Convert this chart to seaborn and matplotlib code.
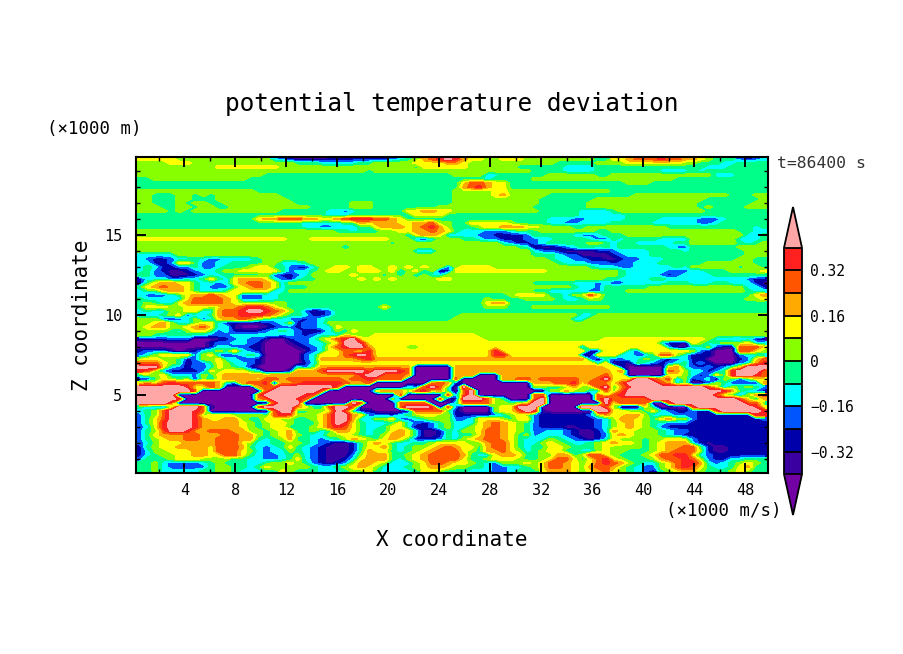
import numpy as np
import pandas as pd
import matplotlib
matplotlib.use("Agg")
import matplotlib.pyplot as plt
from matplotlib.cm import ScalarMappable
from matplotlib.colors import BoundaryNorm, ListedColormap
import seaborn as sns

# ==========================================================
# DATA
# ==========================================================

TITLE = "potential temperature deviation"
X_TICKS = [4, 8, 12, 16, 20, 24, 28, 32, 36, 40, 44, 48]
Z_TICKS = [5, 10, 15]
BAR_TICKS = [-0.32, -0.16, 0, 0.16, 0.32]
BAR_LABELS = ["\u22120.32", "\u22120.16", "0", "0.16", "0.32"]
LEVELS = [-0.40, -0.32, -0.24, -0.16, -0.08, 0, 0.08, 0.16, 0.24, 0.32, 0.40]
COLORS = ["#3a00a0", "#0000aa", "#0055ff", "#00ffff", "#00ff88",
          "#88ff00", "#ffff00", "#ffaa00", "#ff5500", "#ff2020"]
UNDER_COLOR = "#7300a5"
OVER_COLOR = "#ffa6a6"

# one letter per contour band, a = below -0.40 ... l = above 0.40
BAND_VALUES = dict(zip("abcdefghijkl",
                       [-0.44, -0.36, -0.28, -0.20, -0.12, -0.04,
                        0.04, 0.12, 0.20, 0.28, 0.36, 0.44]))

# rows run from the top of the plot (z = 19.75) to the bottom (z = 0.25)
BAND_ROWS = [
    "hhhhhggggg gggggggedc bbbbcccccc ccdefgijkl kihhgghhhg ggggggggff hhijjjkjji ihgfffdcde",
    "gggghhhggg gggggggggg fffeeeeeff ggggghhhhi ihgggggggg gggfffffgg gghhhhhhhg gfffeeffff",
    "gggggggggg hhhhhhhhgg gggggggggg gggggfhhhh hhggggggff ffffeeeeff ffffffffff ffeeefffff",
    "gggggggggg gggggggggg gggggggggf gggggggggg gggggggggg ffffeeeeff ffffffeeee feffffffff",
    "gggggggggg ggggggffff ffffffffff ffffffffff ggggeeffff ffggggggff gggggggggg gggeeeffff",
    "ffgggggggg ggggffffff ffffffffff ffffffffff ffffefffff gggggggggg ggggggggff ffffffffff",
    "ffffffffff ffffffffff ffffffffff ffffffffff fhjjihhfff ffffffffff ffgggfffff ffffffffff",
    "ffffffffff ffffffffff ffffffffff ffffffffff fijkihhfff ffffffffff ffffffffff ffffffffff",
    "gggggggggg gggggfffff ffffffffff ffffffffff ggggghhggg gggggggggg ffffffffff ffffffffff",
    "ggfffggfgf ggggggggff ffffffffff ffffffffff ggggghiggg ggffffffff fffggggggg gggggfffgg",
    "ggfffggfff gggggggggf ffffffffff ffffffffff gggggggggg gfffffffgg gggggggggg ggfffffffg",
    "ggfffgfggf fggggggggg fffffffggg ffffffffff gggggggggg gffffffggg gggggggggg gfffffffgg",
    "gggffggfgg ffgggggggg ggfffffggg ffffffffgg gggggggggg fffffffggg gggggggggg gfgffffggg",
    "ggggfgfggg ggggggggff ffffeedeff ffffhhiihh gggggggggg gfffffeeee fggggggggg ggffffffff",
    "ffffffffff ffffffffff ffffeeefff fffffhhhhf ffffffffff ffffffeeee eeffffffff ffffffffff",
    "ffffffffff fffffhiijj jiihhijkkk jjihffffff ffffffffff ffeeeddeee eeffffeeee edddefffff",
    "ffffffffff ffffffffff feeeeeffih iiihhiijgg ffhhhhhgff ffeeddeeee fffffeeeee eddeffffff",
    "ffffffffff ffffffffff feeddeeeff hiiihijkig fffghhiiih hggggffggg gggggggfff ffffffffef",
    "gggggggggg gggggggggg gggggffeff fgghhiijih feeedddeff fgggggggff gggggggggg ggggggffee",
    "gggggggggg gggggggggg gggggggggg ggggehiihe eeeddccccd fffffeddef ffgggggggg gggggggeef",
    "hhhhhhhhhh hhhhhhhhhg gghhhhhhhh hhgggdcegg gffeddcccd deeffffedd feffffeeee ggggggeeef",
    "gggggggggg gggggggggg gggggggggg ggfggggggg ggggggedcc defffffggf effeeeeeff ggggggfefg",
    "gggggggggg gggggggggg ggggggeggg gggggggggg ggggggggfe bbbcdeffef effffffedd ffffffgggg",
    "gggggggggg gggggggggg gggggggggg gggggedegg gggggggggg eddcbbbbcc deeeeffffe fffffffggg",
    "eeeeeggggg gggggggggg gggggggggg gggggggggg gggggggggg fffeddbbbb cdeeefffff fffffffggg",
    "edccdeefed deeeefgggg gggggggggg gggggggggg gggggggggg ggfeeddccb bcddeeefff ffffffggff",
    "eeccdhhfdd eeffffggee efgggggggg gggggggggg gggggggggg gggfeeeddd cddeeeffff ffggggggff",
    "efeccddfdd efffghhffd ccegghhghh gghghghggd ghhhhggggg gggggggfee eddeeeeefe ggggggfggf",
    "efdcbbcdee fgghhhhhfd eefghhgghh hgheghegbc hhhhhhhhhh hhgggggggg gfeeeeeddd eefffggggh",
    "ffddbbbcde efffffgdcc deggggghgg gfgfgegeeg gggggggggg gggggggggg gfeeeedcde eeefffffff",
    "ceeeddeefh fehiiihedc effggggghg hghggggghh gggggggggg gggggggggf feeeeffeee eeeeeeedcc",
    "cfhiihhfee dehijjiheg gggggggggg gggggggggg gggggggggg fffffeeede cdeeeeefff eeeffeeecb",
    "fhijiihfed ddfhijihef ffgggggggg gggggggggg gggggggggg gggggfeedf fffffggggg gggggggeec",
    "effhiihfee efhhhhheeg gggggggggg gggggggggg gggggggggg ffeeeeeddf ffgggggggg gggggggfee",
    "edddefhiij ihhdddeeff ffffffffff ffffffffff fffffffghh hhffeggjhf ffffffffff ffffffffhi",
    "feeeeehjjj jihdddeeff ffffffffff ffffffffff ffffgffffg gggfedfggf ffffffffff fffffffggh",
    "fgfeehijjj jihggggggf ffffffffff ffffffffff ffffhiifff ffffffffff ffffffffff ffffffffff",
    "fhhhgghhhg hiijkkjhgf ffffffffff fhffffffff ffffgggfff gggggggggg ffffffffff ffffffffff",
    "efeegghhee ijjkllkjig fdbcdfffff ffffffffff ffffffffff ffffffffff ffffffffff ffffffffff",
    "edefghdeef ijjkkkjigf feccdfffff ffffffffff fggggggggg ggggggeegg gggggggggg gggggggggg",
    "gggdcdegde hiijigfeed dcdeffffff ffffffffff gggggggggg gggggeeggg gggggggggg gggggggggg",
    "gghigeeghh eccbbbcdeg cddegggggg gggggggggg gggggggggg gggggggggg gggggggggg gggggggggg",
    "ghiigghijh eebaaabcdd cddeehgggg gggggggggg gggggggggg gggggggggg gggggggggg gggggggggg",
    "ggggfeghhf deccccdefe dcbcegehgg gggggggggg gggggggggg gggggggggg gggggggggg gggggggggg",
    "ggfefffeed ddeeeeeede dcdeeehggg hhhhhhhhhh hhhggggggg gggggggggg gggggggggg gggggggggg",
    "ccccdddaaa bcdeddbaac ddeghjklhh hhhhhhhhhh hhhhgggggg gggggggggh hhhhhhhhhh hhgeeddecb",
    "aaaaaaaaac ddeedcaaab cdeeghllkh hhhhhhhhhh hhhhhhhhhh hhhhhhhhhh hhhhhheccb hgefggghee",
    "aaaaaaaaac eeddccaaaa bcdehjklli hhhhgghhhh hhhhhhhhhh hhhhhhdhhh hhhhhhhdbb eegcbbjjjh",
    "cdddbabcef gfhedcaaaa abdehhjihk hhhhhhhhhh hhhhhkhhhh hhhhhhhcch hhedhhhhhh gdcaaajjhg",
    "deghhhhdgh dcdefeaaaa adehhhjklk hhhhhhhhhh hhhhhkkhhh hhhhhhcbhh heeddfjjge cccaaadeee",
    "ghhggfcdgg heecdcaaaa adeiiiiijk iiiiiiiiii iiiiiiiiii iiiiiiidbe ddeegfdcde ccaaaacdhj",
    "jjjhgfbddf hgeedcaaaa acehhhhhhh hhhhhhhhhh hhhhhhhhhh hhhhhhhheh acbfedcdef cdcaaadeik",
    "lllhedcdde hgfecaaaaa edfiiiiiii iiiiiaaaaa iiiiiiiiii iiiiiiiiih hcaaaaahie dcdcdfhlll",
    "kjgdccccdh ghhhfeaaac iiijlllllj lllkjaaaaa iiiiiiiiii iiiiiiiiii hiaaaaajig eecdfklllj",
    "fggheeedgf hiiiiihiii iiiiiiiikl ljjjiaaaaa iiiaaaiiii iiiiiiiiij hhaaaaahhg ecdhfkllkj",
    "ccfhgfgcge hiiiihjjij jjjjjjijjk jjjjaaaaaa jaaaaaiijj ijjjjjiijl hhhlljijdg cdeagfdfhh",
    "hihjkjjjjj iedijjkaii jkkkkkjiij aaaaaaaiji caaaaaaaaa iiijjkhjji hjlllljieg aadgfcdcci",
    "llllllkhhj iaaaaijjll llllljaaaa aaaaedjljf alaaaaaaaa ggffgiggjl fiklllllll lljhdgfgfd",
    "llllllljaa aaaaaajlll llljaaaaaa hiiigjkhif ajlaaaaaaa aaggiggeej gjllllllll llllkifedc",
    "lllllaaaaa aaaaajllll lkjaaaaaaa aaajaaaaaj djlaaaaaaa jjaaaaaajg jkllllllll llljgfdgij",
    "lllllkaaaa aaaaaijlll kjaaaaaaaa aagaaaaajb cllljgfaaa jlaaaaaajl jjjjjlllll lllllljhei",
    "lllljaaaaa aaaaaaajll laaaaaalja aaajjjjaaa ejjjjggfgh llaaaaaaal hjjjjaajll llllllljjf",
    "fedcgllljb aaaaajllll ihffjlljaa aaajlllkaj daaaaghhll laaaaalllj gaaaheaaaa jlllllllkh",
    "efgjlllkja aaaaaaajll ffgghljecc aaaacjjjjf caaaaghhjl kbaaaaaall hhggfhedcc dccjlllllk",
    "dfgjlllkgh hhggggfjkj ggghjllihd ddcefghhgg cccccdeghg dccccccdgi hhiigeeedd dccccccckk",
    "dfhjlllkih hiigffhhgg ffghjlliee gghddefggg ddehhhgfhh dcccccccde giihgfhigg dccccccccd",
    "dfhklllkii iiihgfghhg fffhjlkhfe eefhedcdfg eeehijihgf dcccccccde ghihgfeddd cccccccccc",
    "dehklllkii iiihgfghhf ffghjkjhfe efhhebcdfg eeghijihgf dcccbbccde ghihgfdccc cccccccccc",
    "dfgjllkiij jjiiggfghi ffgefiihfe ffhihebbcf egghjjihgf ddeedcbbce ihhgggfedd cccccccccc",
    "dfhiiijjii ijjiigfghi gfeegghgfe fgiihebbcf effhjjihfg deeedcbbcd hihgggfedc cccccccccc",
    "dfghiijjii jjjiifefgi ffedefgihg fhihfcccdf eghijjihfe eegfedcbce hgggfgghhg dccccccccc",
    "deghhhiiii jjjhgeeffg gfedcbbcfh ihfeeffghh hhfgijjhfe eghgfeefgh ihhgfghiii ecbccccccc",
    "cfghhiiiih jjjifedefh fedcbbbcfh hifefgghij ihhfijjhfe ffhhgfffgh ggggfghiij jfcbbccccc",
    "cegghhhiih jjjhgedeeg fedcbbbcfi hhfefghijj jhgfiijhge fghhffeegh ggfffghijj jgcbbccccc",
    "cefgghhiih hjjhfeddef gedcbbbdgi iiffghijjj jifeehiihf fggiifgjjh gfffghjjkk hedccccccc",
    "dfffghhhgg ggffeeddef hedcbbcehi iifeghijjj jhffghhhgf fghjjhfhjk hgfffgijjk jgdcceefff",
    "ffgeddddef gfffeefggh gfdcbcdgii hgeeeghjji hhgfedgggh ghjjihghjk jigfeeghjk kiedefghgf",
    "ffgedddddf ggffefhggg ggfeefghih geeefghiih ggffeddeef ghjjihgijj igfeddghjk jhfeefhiff",
    "ffgeeeeeff ggfeeeffhg fffeeefggh feeeefhhgf ffeeeddeff fhiiihghij hgfedcfghi igfffghgff",
]

NX = 80
X_MIN, X_MAX = 0.2, 49.8
Z_MIN, Z_MAX = 0.125, 19.875


def band_grid():
    rows = []
    for row in BAND_ROWS:
        row = row.replace(" ", "")
        row = row[:NX].ljust(NX, row[-1])
        rows.append([BAND_VALUES[c] for c in row])
    return pd.DataFrame(rows)


def main():

    sns.set_theme(style="ticks")
    plt.rcParams["font.family"] = ["DejaVu Sans Mono", "DejaVu Sans"]

    fig = plt.figure(figsize=(9.04, 6.54), dpi=100)
    ax = fig.add_axes([136 / 904, 1 - 473 / 654, 632 / 904, 316 / 654])

    cmap = ListedColormap(COLORS)
    cmap.set_under(UNDER_COLOR)
    cmap.set_over(OVER_COLOR)
    norm = BoundaryNorm(LEVELS, cmap.N)

    grid = band_grid()
    sns.heatmap(grid, cmap=cmap, norm=norm, cbar=False, ax=ax,
                xticklabels=False, yticklabels=False)

    # contour bands over the cells, the cells still fill the outer half cell
    nz, nx = grid.shape
    ax.contourf(np.arange(nx) + 0.5, np.arange(nz) + 0.5, grid.values,
                levels=LEVELS, cmap=cmap, norm=norm, extend="both",
                antialiased=False)

    # heatmap axes count cells, so convert from data units
    def xc(x):
        return (np.asarray(x, dtype=float) - X_MIN) / (X_MAX - X_MIN) * nx

    def zc(z):
        return (Z_MAX - np.asarray(z, dtype=float)) / (Z_MAX - Z_MIN) * nz

    ax.set_xticks(xc(X_TICKS))
    ax.set_xticklabels([str(v) for v in X_TICKS], fontsize=11)
    ax.set_yticks(zc(Z_TICKS))
    ax.set_yticklabels([str(v) for v in Z_TICKS], fontsize=11, rotation=0)
    ax.set_xticks(xc(np.arange(2, 50, 4)), minor=True)
    ax.set_yticks(zc([v for v in range(1, 20) if v % 5 != 0]), minor=True)

    ax.set_axisbelow(False)
    ax.tick_params(axis="both", which="major", direction="in", length=7.5,
                   width=1.4, color="black", top=True, right=True,
                   labelcolor="black")
    ax.tick_params(axis="both", which="minor", direction="in", length=3,
                   width=1.0, color="black", top=True, right=True)
    ax.tick_params(axis="x", which="major", pad=7)
    ax.tick_params(axis="y", which="major", pad=10)

    for spine in ax.spines.values():
        spine.set_visible(True)
        spine.set_linewidth(1.5)
        spine.set_color("black")
        spine.set_zorder(5)

    # colour bar with pointed ends, the axes include both points
    cax = fig.add_axes([784 / 904, 1 - 515 / 654, 18 / 904, 308 / 654])
    cbar = fig.colorbar(ScalarMappable(norm=norm, cmap=cmap), cax=cax,
                        extend="both", extendfrac=0.18, drawedges=True,
                        ticks=BAR_TICKS)
    cbar.ax.set_yticklabels(BAR_LABELS, fontsize=10.5, color="black")
    cbar.ax.tick_params(length=0, pad=6, which="both")
    cbar.ax.minorticks_off()
    cbar.outline.set_linewidth(1.3)
    cbar.outline.set_edgecolor("black")
    cbar.dividers.set_linewidth(1.3)
    cbar.dividers.set_color("black")

    def put(px, py, text, **kw):
        fig.text(px / 904, 1 - py / 654, text, color=kw.pop("color", "black"), **kw)

    put(452, 104, TITLE, fontsize=17.6, ha="center", va="center")
    put(452, 540, "X coordinate", fontsize=15, ha="center", va="center")
    put(82, 315, "Z coordinate", fontsize=15, ha="center", va="center", rotation=90)
    put(47, 129, "(\u00d71000 m)", fontsize=12.5, ha="left", va="center")
    put(782, 511, "(\u00d71000 m/s)", fontsize=12.5, ha="right", va="center")
    put(777, 163, "t=86400 s", fontsize=11.8, ha="left", va="center", color="#333333")

    fig.savefig("out.png", dpi=100, facecolor="white")


if __name__ == "__main__":
    main()
